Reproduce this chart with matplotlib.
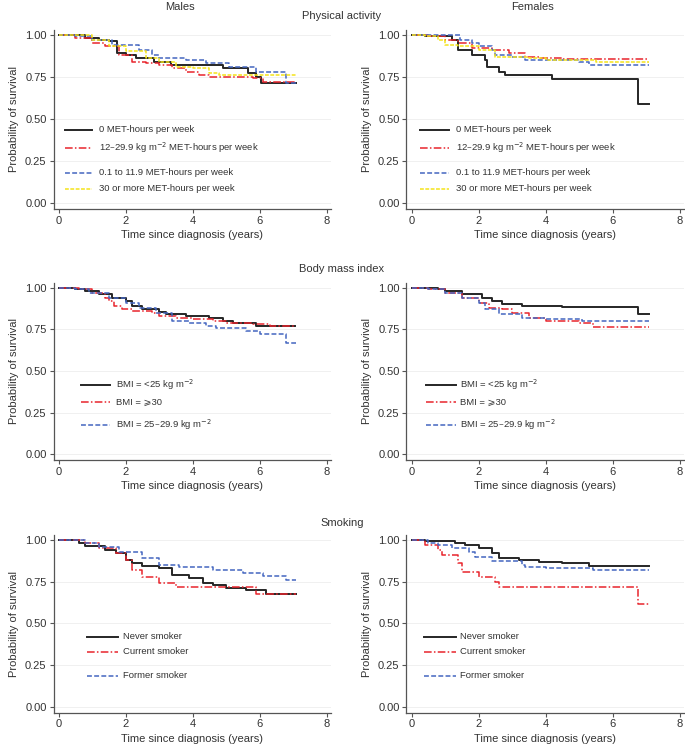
import matplotlib
matplotlib.use("Agg")
import matplotlib.pyplot as plt

plt.rcParams['font.family'] = ['Liberation Sans', 'DejaVu Sans']

# ---------------- data (Kaplan-Meier step curves) ----------------
# Physical activity - Males
pa_m_none_t = [0, 0.8, 1.2, 1.52, 1.75, 2.0, 2.3, 2.86, 3.36, 4.9, 5.65, 5.9, 6.04, 7.09]
pa_m_none_s = [1.0, 0.98, 0.97, 0.96, 0.89, 0.88, 0.86, 0.84, 0.82, 0.80, 0.77, 0.75, 0.71, 0.71]
pa_m_high_t = [0, 0.5, 1.0, 1.4, 1.8, 2.2, 2.6, 3.0, 3.4, 3.8, 4.2, 4.5, 5.8, 6.1, 7.09]
pa_m_high_s = [1.0, 0.98, 0.95, 0.93, 0.88, 0.84, 0.83, 0.82, 0.80, 0.78, 0.76, 0.75, 0.74, 0.72, 0.72]
pa_m_low_t = [0, 0.5, 1.0, 1.6, 2.4, 2.8, 3.0, 3.8, 4.4, 5.1, 5.9, 6.8, 7.09]
pa_m_low_s = [1.0, 0.99, 0.97, 0.94, 0.91, 0.88, 0.86, 0.85, 0.83, 0.81, 0.78, 0.71, 0.71]
pa_m_top_t = [0, 0.5, 1.0, 1.5, 2.0, 2.6, 3.0, 3.5, 4.0, 4.5, 4.8, 7.09]
pa_m_top_s = [1.0, 0.995, 0.97, 0.93, 0.90, 0.86, 0.84, 0.81, 0.80, 0.77, 0.76, 0.76]

# Physical activity - Females
pa_f_none_t = [0, 0.4, 1.2, 1.4, 1.8, 2.2, 2.25, 2.6, 2.8, 4.2, 6.75, 7.09]
pa_f_none_s = [1.0, 0.99, 0.97, 0.91, 0.88, 0.85, 0.81, 0.78, 0.76, 0.735, 0.585, 0.585]
pa_f_high_t = [0, 0.5, 1.0, 1.4, 1.8, 2.4, 2.9, 3.4, 3.8, 4.5, 7.09]
pa_f_high_s = [1.0, 0.99, 0.97, 0.95, 0.92, 0.91, 0.89, 0.87, 0.86, 0.855, 0.855]
pa_f_low_t = [0, 1.45, 1.8, 2.0, 2.4, 2.5, 3.0, 3.4, 5.0, 5.3, 7.09]
pa_f_low_s = [1.0, 0.97, 0.95, 0.93, 0.91, 0.88, 0.87, 0.85, 0.84, 0.82, 0.82]
pa_f_top_t = [0, 0.4, 0.8, 1.0, 1.4, 2.0, 2.5, 3.5, 4.0, 5.5, 7.09]
pa_f_top_s = [1.0, 0.99, 0.97, 0.94, 0.93, 0.91, 0.87, 0.86, 0.85, 0.84, 0.84]

# Body mass index - Males
bmi_m_norm_t = [0, 0.5, 0.8, 1.2, 1.6, 2.0, 2.2, 2.5, 3.0, 3.2, 3.8, 4.5, 4.9, 5.2, 5.9, 7.05]
bmi_m_norm_s = [1.0, 0.995, 0.98, 0.96, 0.94, 0.92, 0.89, 0.87, 0.855, 0.84, 0.83, 0.82, 0.80, 0.79, 0.77, 0.77]
bmi_m_obese_t = [0, 0.6, 1.0, 1.4, 1.5, 1.65, 1.9, 2.2, 2.8, 3.0, 3.5, 4.0, 4.6, 5.0, 5.8, 6.3, 7.09]
bmi_m_obese_s = [1.0, 0.99, 0.97, 0.94, 0.92, 0.89, 0.87, 0.86, 0.85, 0.83, 0.82, 0.81, 0.80, 0.79, 0.785, 0.77, 0.77]
bmi_m_over_t = [0, 0.5, 0.9, 1.5, 2.0, 2.4, 2.9, 3.4, 3.9, 4.4, 4.7, 5.6, 6.0, 6.8, 7.09]
bmi_m_over_s = [1.0, 0.99, 0.97, 0.94, 0.91, 0.88, 0.85, 0.80, 0.79, 0.77, 0.76, 0.74, 0.72, 0.67, 0.67]

# Body mass index - Females
bmi_f_norm_t = [0, 0.8, 1.0, 1.5, 2.1, 2.4, 2.7, 3.3, 4.5, 6.75, 7.09]
bmi_f_norm_s = [1.0, 0.99, 0.98, 0.96, 0.94, 0.92, 0.90, 0.89, 0.885, 0.84, 0.84]
bmi_f_obese_t = [0, 0.5, 1.0, 1.5, 2.0, 2.3, 2.7, 3.0, 3.5, 4.0, 5.0, 5.4, 7.09]
bmi_f_obese_s = [1.0, 0.99, 0.97, 0.94, 0.91, 0.88, 0.87, 0.85, 0.82, 0.80, 0.79, 0.765, 0.765]
bmi_f_over_t = [0, 0.5, 1.0, 1.5, 2.0, 2.2, 2.6, 3.3, 4.0, 5.1, 7.09]
bmi_f_over_s = [1.0, 0.99, 0.97, 0.94, 0.91, 0.87, 0.845, 0.82, 0.815, 0.80, 0.80]

# Smoking - Males
smk_m_never_t = [0, 0.6, 0.8, 1.4, 1.7, 2.0, 2.2, 2.5, 3.0, 3.4, 3.9, 4.3, 4.6, 5.0, 5.6, 6.2, 7.09]
smk_m_never_s = [1.0, 0.98, 0.965, 0.94, 0.92, 0.88, 0.86, 0.845, 0.83, 0.79, 0.77, 0.74, 0.73, 0.715, 0.70, 0.675, 0.675]
smk_m_curr_t = [0, 0.8, 1.2, 1.7, 2.0, 2.2, 2.5, 3.0, 3.5, 5.9, 7.09]
smk_m_curr_s = [1.0, 0.98, 0.95, 0.92, 0.88, 0.82, 0.78, 0.74, 0.72, 0.675, 0.675]
smk_m_form_t = [0, 0.8, 1.2, 1.8, 2.5, 3.0, 3.6, 4.6, 5.5, 6.1, 6.8, 7.09]
smk_m_form_s = [1.0, 0.985, 0.96, 0.93, 0.89, 0.85, 0.84, 0.82, 0.80, 0.785, 0.76, 0.76]

# Smoking - Females
smk_f_never_t = [0, 0.4, 1.3, 1.6, 2.0, 2.4, 2.6, 3.2, 3.8, 4.5, 5.3, 7.09]
smk_f_never_s = [1.0, 0.995, 0.985, 0.97, 0.95, 0.92, 0.895, 0.88, 0.87, 0.86, 0.845, 0.845]
smk_f_curr_t = [0, 0.4, 0.8, 0.9, 1.4, 1.5, 2.0, 2.5, 2.6, 6.75, 7.09]
smk_f_curr_s = [1.0, 0.97, 0.94, 0.91, 0.86, 0.81, 0.78, 0.75, 0.72, 0.615, 0.615]
smk_f_form_t = [0, 0.5, 0.8, 1.2, 1.7, 1.9, 2.4, 3.3, 3.4, 4.0, 5.4, 7.09]
smk_f_form_s = [1.0, 0.98, 0.97, 0.95, 0.93, 0.90, 0.875, 0.85, 0.84, 0.83, 0.82, 0.82]

pa_labels = ["0 MET-hours per week",
             "12\u201329.9 kg m$^{-2}$ MET-hours per week",
             "0.1 to 11.9 MET-hours per week",
             "30 or more MET-hours per week"]
bmi_labels = ["BMI = <25 kg m$^{-2}$", "BMI = \u2a7e30", "BMI = 25\u201329.9 kg m$^{-2}$"]
smk_labels = ["Never smoker", "Current smoker", "Former smoker"]

section_titles = ["Physical activity", "Body mass index", "Smoking"]
col_titles = ["Males", "Females"]
x_ticks = [0, 2, 4, 6, 8]
y_ticks = [0.0, 0.25, 0.5, 0.75, 1.0]

# ---------------- styles ----------------
BLACK = dict(color='#262626', lw=1.4, ls='-')
RED = dict(color='#e8242c', lw=1.1, ls=(0, (5, 1.5, 1, 1.5)))
BLUE = dict(color='#4466c0', lw=1.1, ls=(0, (3.2, 1.5)))
YELLOW = dict(color='#f4e31a', lw=1.1, ls=(0, (2.5, 1)))

W, H = 685, 746
fig = plt.figure(figsize=(W / 100, H / 100), dpi=100)

col_left = [53.5, 406.5]
ax_w = 277.5
rows_px = [(29.6, 208.8), (282.8, 460.0), (535.0, 712.5)]

def make_ax(r, c):
    top, bot = rows_px[r]
    ax = fig.add_axes([col_left[c] / W, 1 - bot / H, ax_w / W, (bot - top) / H])
    ax.set_xlim(-0.15, 8.13)
    ax.set_ylim(-0.035, 1.03)
    for s in ['top', 'right']:
        ax.spines[s].set_visible(False)
    for s in ['left', 'bottom']:
        ax.spines[s].set_color('#555555')
        ax.spines[s].set_linewidth(0.9)
    ax.set_xticks(x_ticks)
    ax.set_yticks(y_ticks)
    ax.set_yticklabels(["%.2f" % v for v in y_ticks])
    ax.tick_params(axis='both', labelsize=8, length=3, width=0.8, color='#555555',
                   labelcolor='#333333', pad=2)
    ax.grid(axis='y', color='#eeeeee', lw=0.6)
    ax.set_axisbelow(True)
    ax.set_xlabel("Time since diagnosis (years)", fontsize=8, color='#333333', labelpad=3)
    ax.set_ylabel("Probability of survival", fontsize=8, color='#333333', labelpad=4)
    return ax

def legend(ax, styles, labels, ys, x0, x1, xt, fs=6.8):
    for st, lab, yy in zip(styles, labels, ys):
        ax.plot([x0, x1], [yy, yy], **st)
        ax.text(xt, yy, lab, fontsize=fs, color='#333333', va='center', ha='left')

panels = [
    (0, 0, [(pa_m_none_t, pa_m_none_s, BLACK), (pa_m_high_t, pa_m_high_s, RED),
            (pa_m_low_t, pa_m_low_s, BLUE), (pa_m_top_t, pa_m_top_s, YELLOW)], pa_labels),
    (0, 1, [(pa_f_none_t, pa_f_none_s, BLACK), (pa_f_high_t, pa_f_high_s, RED),
            (pa_f_low_t, pa_f_low_s, BLUE), (pa_f_top_t, pa_f_top_s, YELLOW)], pa_labels),
    (1, 0, [(bmi_m_norm_t, bmi_m_norm_s, BLACK), (bmi_m_obese_t, bmi_m_obese_s, RED),
            (bmi_m_over_t, bmi_m_over_s, BLUE)], bmi_labels),
    (1, 1, [(bmi_f_norm_t, bmi_f_norm_s, BLACK), (bmi_f_obese_t, bmi_f_obese_s, RED),
            (bmi_f_over_t, bmi_f_over_s, BLUE)], bmi_labels),
    (2, 0, [(smk_m_never_t, smk_m_never_s, BLACK), (smk_m_curr_t, smk_m_curr_s, RED),
            (smk_m_form_t, smk_m_form_s, BLUE)], smk_labels),
    (2, 1, [(smk_f_never_t, smk_f_never_s, BLACK), (smk_f_curr_t, smk_f_curr_s, RED),
            (smk_f_form_t, smk_f_form_s, BLUE)], smk_labels),
]

leg_y = {0: [0.434, 0.327, 0.179, 0.083], 1: [0.416, 0.313, 0.175], 2: [0.419, 0.329, 0.186]}
leg_x = {(0, 0): (0.18, 1.01, 1.22), (0, 1): (0.25, 1.13, 1.32),
         (1, 0): (0.66, 1.55, 1.70), (1, 1): (0.42, 1.32, 1.45),
         (2, 0): (0.84, 1.76, 1.91), (2, 1): (0.36, 1.32, 1.45)}

for r, c, curves, labels in panels:
    ax = make_ax(r, c)
    for t, s, st in curves:
        ax.step(t, s, where='post', **st)
    x0, x1, xt = leg_x[(r, c)]
    legend(ax, [st for _, _, st in curves], labels, leg_y[r], x0, x1, xt)

# titles
fig.text(180 / W, 1 - 7 / H, col_titles[0], ha='center', va='center', fontsize=8, color='#333333')
fig.text(532 / W, 1 - 7 / H, col_titles[1], ha='center', va='center', fontsize=8, color='#333333')
for yy, t in zip([16, 269, 523], section_titles):
    fig.text(342 / W, 1 - yy / H, t, ha='center', va='center', fontsize=8, color='#333333')

fig.savefig("out.png", dpi=100)
